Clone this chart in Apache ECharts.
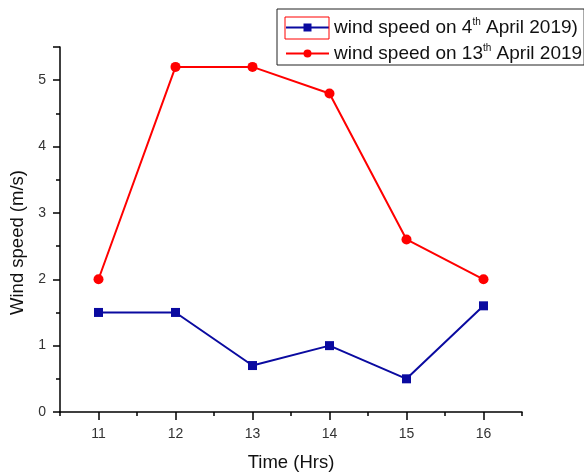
<!DOCTYPE html>
<html>
<head>
<meta charset="utf-8">
<script src="https://cdn.jsdelivr.net/npm/echarts@6/dist/echarts.min.js"></script>
<style>html,body{margin:0;padding:0;background:#fff}#c{width:584px;height:473px}</style>
</head>
<body>
<div id="c"></div>
<script>
var categories = ['11', '12', '13', '14', '15', '16'];
var april4 = [1.5, 1.5, 0.7, 1.0, 0.5, 1.6];
var april13 = [2.0, 5.2, 5.2, 4.8, 2.6, 2.0];
var seriesNames = ['wind speed on 4th April 2019)', 'wind speed on 13th April 2019'];
var yTicks = [0, 1, 2, 3, 4, 5];

var chart = echarts.init(document.getElementById('c'));
var font = 'Arial, "Liberation Sans", sans-serif';
var blue = '#0a0aa0', red = '#ff0000';
chart.setOption({
  animation: false,
  backgroundColor: '#fff',
  grid: { left: 60, right: 62, top: 47, bottom: 61, outerBoundsMode: 'none', containLabel: false },
  legend: {
    orient: 'vertical', left: 277, top: 9,
    itemWidth: 43, itemHeight: 10, itemGap: 6,
    padding: [8, 2, 2, 8],
    borderColor: '#222', borderWidth: 1,
    textStyle: {
      fontFamily: font, fontSize: 19, color: '#111',
      rich: {
        n: { fontFamily: font, fontSize: 19, color: '#111' },
        s: { fontFamily: font, fontSize: 10, color: '#111', padding: [0, 0, 11, 0] }
      }
    },
    formatter: function (name) {
      var m = name.match(/^(.*?\d+)(th)(.*)$/);
      if (!m) return '{n|' + name + '}';
      return '{n|' + m[1] + '}{s|' + m[2] + '}{n|' + m[3] + '}';
    },
    data: seriesNames
  },
  xAxis: [{
    type: 'category', data: categories, boundaryGap: true, position: 'bottom',
    axisLine: { lineStyle: { color: '#000', width: 1.5 } },
    axisTick: { show: true, interval: 0, length: 4, lineStyle: { color: '#000', width: 1.5 } },
    axisLabel: { show: false },
    splitLine: { show: false }
  }, {
    type: 'category', data: categories, boundaryGap: true, position: 'bottom',
    axisLine: { show: false },
    axisTick: { show: true, alignWithLabel: true, interval: 0, length: 8, lineStyle: { color: '#000', width: 1.5 } },
    axisLabel: { show: true, margin: 15, fontFamily: font, fontSize: 14, color: '#333' },
    name: 'Time (Hrs)', nameLocation: 'middle', nameGap: 41,
    nameTextStyle: { fontFamily: font, fontSize: 18.5, color: '#111' },
    splitLine: { show: false }
  }],
  yAxis: {
    type: 'value', min: 0, max: 5.5, interval: 1,
    axisLine: { show: true, lineStyle: { color: '#000', width: 1.5 } },
    axisTick: { show: true, length: 7, lineStyle: { color: '#000', width: 1.5 } },
    minorTick: { show: true, splitNumber: 2, length: 4, lineStyle: { color: '#000', width: 1.5 } },
    axisLabel: {
      margin: 14, fontFamily: font, fontSize: 14, color: '#333',
      formatter: function (v) { return yTicks.indexOf(v) >= 0 ? String(v) : ''; }
    },
    splitLine: { show: false },
    name: 'Wind speed (m/s)', nameLocation: 'middle', nameGap: 27,
    nameTextStyle: { fontFamily: font, fontSize: 18.5, color: '#111', padding: [0, 26, 0, 0] }
  },
  graphic: [{
    type: 'rect', shape: { x: 285, y: 17, width: 44, height: 22 },
    style: { fill: 'none', stroke: red, lineWidth: 1 }, z: 100
  }],
  series: [{
    name: seriesNames[0], type: 'line', xAxisIndex: 0, data: april4,
    symbol: 'rect', symbolSize: 9,
    lineStyle: { color: blue, width: 2 },
    itemStyle: { color: blue }
  }, {
    name: seriesNames[1], type: 'line', xAxisIndex: 0, data: april13,
    symbol: 'circle', symbolSize: 10,
    lineStyle: { color: red, width: 2 },
    itemStyle: { color: red }
  }]
});
</script>
</body>
</html>
